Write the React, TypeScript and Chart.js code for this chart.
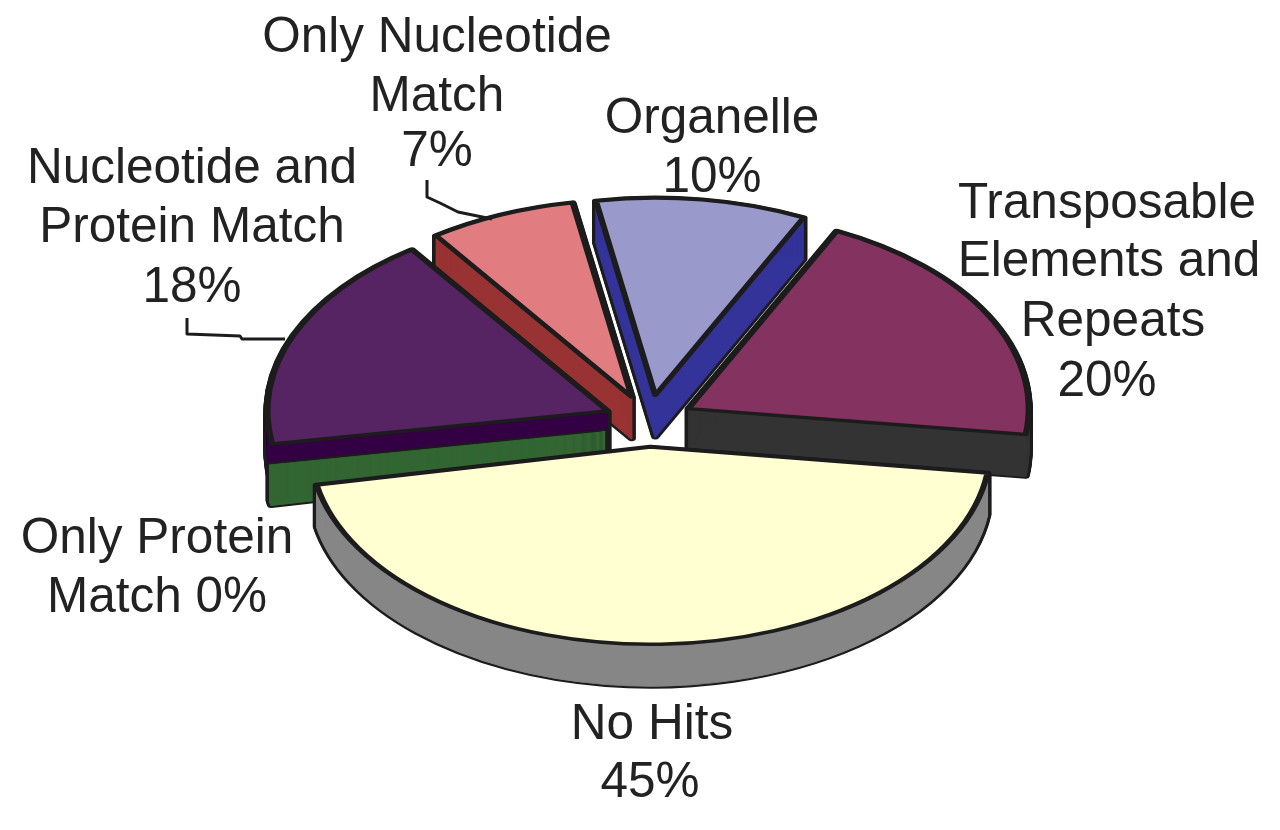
import React, { useEffect, useRef } from "react";
import { Chart, registerables } from "chart.js";

Chart.register(...registerables);

// Draw order is back-of-stack first, so "No Hits" ends up on top.
const categories = [
  "Only Protein Match",
  "Nucleotide and Protein Match",
  "Only Nucleotide Match",
  "Organelle",
  "Transposable Elements and Repeats",
  "No Hits",
];
const values = [0.4, 18, 7, 10, 20, 45];
const topColors = ["rgba(0,0,0,0)", "#562363", "#e17d80", "#9999cc", "#843260", "#ffffd2"];
const sideColors = ["#336633", "#330044", "#993333", "#333399", "#333333", "#868686"];
const borderColors = ["rgba(0,0,0,0)", "#1c1c1c", "#1c1c1c", "#1c1c1c", "#1c1c1c", "#1c1c1c"];
const sideOrder = [3, 2, 4, 1, 0, 5];
const sideStart = [6, 0, 0, 0, 0, 0];

const labelLines: [string, number, number][] = [
  ["Only Nucleotide", 437, 52],
  ["Match", 437, 111],
  ["7%", 437, 166],
  ["Organelle", 712, 133],
  ["10%", 712, 192],
  ["Transposable", 1107, 218],
  ["Elements and", 1109, 276],
  ["Repeats", 1113, 336],
  ["20%", 1107, 396],
  ["Nucleotide and", 192, 183],
  ["Protein Match", 192, 242],
  ["18%", 192, 302],
  ["Only Protein", 157, 553],
  ["Match 0%", 157, 612],
  ["No Hits", 652, 739],
  ["45%", 650, 797],
];
const leaderLines: [number, number][][] = [
  [[427, 180], [427, 197], [440, 203], [458, 212], [492, 219]],
  [[187, 318], [187, 334], [240, 336], [242, 339], [285, 339]],
];

const TILT = 0.58;
const DEPTH = 42;
const RADIUS = 340;
const EXPLODE = 45;

const tiltPlugin = {
  id: "tilt",
  beforeDatasetsDraw(chart: any) {
    const { ctx } = chart;
    const meta = chart.getDatasetMeta(0);
    const cy = meta.data[0].y;
    ctx.save();
    ctx.translate(0, cy);
    ctx.scale(1, TILT);
    ctx.translate(0, -cy);

    const shift = (arc: any) => {
      const mid = (arc.startAngle + arc.endAngle) / 2;
      return [Math.cos(mid) * EXPLODE, Math.sin(mid) * EXPLODE];
    };

    const sweep = (i: number, paint: () => void) => {
      const arc = meta.data[i];
      const [dx, dy] = shift(arc);
      const ox = arc.x + dx;
      const oy = arc.y + dy;
      for (let d = sideStart[i]; d <= DEPTH; d += 1) {
        const yy = oy + d / TILT;
        ctx.beginPath();
        ctx.moveTo(ox, yy);
        ctx.arc(ox, yy, arc.outerRadius, arc.startAngle, arc.endAngle);
        ctx.closePath();
        paint();
      }
    };

    for (const i of sideOrder) {
      ctx.lineJoin = "round";
      ctx.strokeStyle = "#1c1c1c";
      ctx.lineWidth = 8;
      sweep(i, () => ctx.stroke());
      ctx.strokeStyle = sideColors[i];
      ctx.fillStyle = sideColors[i];
      ctx.lineWidth = 1.5;
      sweep(i, () => {
        ctx.fill();
        ctx.stroke();
      });
    }

    // Tops are the library's own arc elements, each moved out along its bisector.
    meta.data.forEach((arc: any) => {
      const [dx, dy] = shift(arc);
      ctx.save();
      ctx.translate(dx, dy);
      arc.draw(ctx);
      ctx.restore();
    });
    ctx.restore();
    return false;
  },
  afterDraw(chart: any) {
    const { ctx } = chart;
    ctx.save();
    ctx.strokeStyle = "#1c1c1c";
    ctx.lineWidth = 3;
    ctx.lineJoin = "round";
    for (const line of leaderLines) {
      ctx.beginPath();
      line.forEach(([px, py], i) => (i ? ctx.lineTo(px, py) : ctx.moveTo(px, py)));
      ctx.stroke();
    }
    ctx.fillStyle = "#222222";
    ctx.font = '49.5px "Liberation Sans", Arial, sans-serif';
    ctx.textAlign = "center";
    ctx.textBaseline = "alphabetic";
    for (const [text, px, py] of labelLines) ctx.fillText(text, px, py);
    ctx.restore();
  },
};

export default function App() {
  const ref = useRef<HTMLCanvasElement>(null);
  useEffect(() => {
    const chart = new Chart(ref.current as HTMLCanvasElement, {
      type: "pie",
      data: {
        labels: categories,
        datasets: [
          {
            data: values,
            backgroundColor: topColors,
            borderColor: borderColors,
            borderWidth: 6,
            borderJoinStyle: "round",
            clip: false,
          } as any,
        ],
      },
      options: {
        animation: false,
        responsive: false,
        rotation: 258.9,
        radius: RADIUS,
        layout: { padding: { left: 18, right: 0, top: 12, bottom: 0 } },
        events: [],
        plugins: { legend: { display: false }, tooltip: { enabled: false } },
      } as any,
      plugins: [tiltPlugin],
    });
    return () => chart.destroy();
  }, []);
  return (
    <canvas
      ref={ref}
      width={1280}
      height={830}
      style={{ position: "absolute", left: 0, top: 0, width: 1280, height: 830, background: "#fff" }}
    />
  );
}
